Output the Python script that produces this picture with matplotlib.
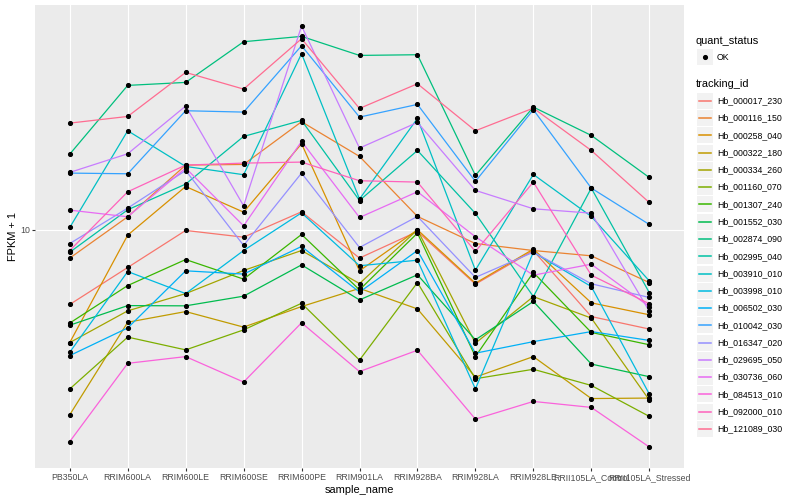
#!/usr/bin/env python3
"""FPKM + 1 per sample for 20 tracking ids, drawn in the ggplot grey look."""

import matplotlib
matplotlib.use("Agg")
import matplotlib.pyplot as plt
from matplotlib.lines import Line2D
from matplotlib.patches import Rectangle
from matplotlib.ticker import NullLocator
import numpy as np

PANEL = "#EBEBEB"
KEY_BG = "#F2F2F2"
TICK_TEXT = "#4D4D4D"
TICK = "#333333"
FONT = "Liberation Sans"
W, H = 800, 500

samples = ["PB350LA", "RRIM600LA", "RRIM600LE", "RRIM600SE", "RRIM600PE", "RRIM901LA",
           "RRIM928BA", "RRIM928LA", "RRIM928LE", "RRII105LA_Control", "RRII105LA_Stressed"]

tracking_ids = ["Hb_000017_230", "Hb_000116_150", "Hb_000258_040", "Hb_000322_180",
                "Hb_000334_260", "Hb_001160_070", "Hb_001307_240", "Hb_001552_030",
                "Hb_002874_090", "Hb_002995_040", "Hb_003910_010", "Hb_003998_010",
                "Hb_006502_030", "Hb_010042_030", "Hb_016347_020", "Hb_029695_050",
                "Hb_030736_060", "Hb_084513_010", "Hb_092000_010", "Hb_121089_030"]

# ggplot hue palette, 20 levels
colors = ["#F8766D", "#EA8331", "#D89000", "#C09B00", "#A3A500", "#7CAE00", "#39B600",
          "#00BB4E", "#00BF7D", "#00C1A3", "#00BFC4", "#00BAE0", "#00B0F6", "#35A2FF",
          "#9590FF", "#C77CFF", "#E76BF3", "#FA62DB", "#FF62BC", "#FF6C91"]

quant_status = ["OK"]

# FPKM + 1, one value per sample (order as in `samples`)
hb_000017_230 = [5.64, 7.49, 9.95, 9.45, 11.48, 8.05, 9.87, 6.59, 8.53, 5.14, 4.67]
hb_000116_150 = [8.05, 11.05, 16.43, 16.51, 22.91, 17.56, 11.08, 9.00, 8.53, 8.19, 6.67]
hb_000258_040 = [4.21, 9.60, 13.94, 11.45, 19.35, 7.30, 10.0, 6.64, 8.62, 5.71, 5.21]
hb_000322_180 = [2.42, 4.92, 5.34, 4.74, 5.55, 6.38, 5.45, 3.23, 3.78, 2.74, 2.75]
hb_000334_260 = [4.21, 5.37, 6.13, 7.32, 8.53, 6.62, 10.0, 4.19, 5.99, 5.08, 2.71]
hb_001160_070 = [2.95, 4.39, 3.98, 4.64, 5.69, 3.68, 6.67, 3.19, 3.43, 3.03, 2.39]
hb_001307_240 = [4.89, 6.52, 7.96, 6.85, 9.65, 6.31, 9.75, 3.78, 7.21, 4.55, 4.14]
hb_001552_030 = [4.81, 5.59, 5.58, 6.01, 7.64, 5.84, 7.08, 4.30, 5.77, 3.57, 3.24]
hb_002874_090 = [17.87, 30.28, 30.98, 42.33, 44.1, 38.11, 38.31, 15.18, 25.64, 20.63, 14.94]
hb_002995_040 = [8.42, 11.66, 14.20, 20.47, 23.14, 12.52, 18.38, 11.34, 5.99, 13.77, 6.18]
hb_003910_010 = [10.18, 21.38, 16.26, 15.26, 38.61, 12.66, 23.50, 7.34, 15.29, 11.08, 6.76]
hb_003998_010 = [3.91, 7.26, 6.13, 8.53, 11.39, 7.59, 7.92, 2.95, 8.42, 6.47, 2.84]
hb_006502_030 = [3.81, 4.71, 7.30, 7.12, 8.80, 6.20, 8.53, 3.88, 4.24, 4.58, 4.28]
hb_010042_030 = [15.45, 15.37, 24.93, 24.67, 41.05, 23.74, 26.17, 14.50, 25.12, 13.77, 10.42]
hb_016347_020 = [9.00, 11.81, 15.76, 8.87, 15.45, 8.73, 11.08, 6.94, 8.42, 6.61, 5.95]
hb_029695_050 = [15.53, 17.92, 25.84, 12.02, 47.74, 18.72, 22.79, 13.53, 11.75, 11.36, 5.36]
hb_030736_060 = [11.63, 11.05, 16.06, 10.31, 19.70, 10.99, 13.39, 9.48, 7.06, 7.68, 5.55]
hb_084513_010 = [1.97, 3.59, 3.78, 3.11, 4.90, 3.37, 3.97, 2.34, 2.68, 2.56, 1.89]
hb_092000_010 = [8.53, 13.39, 16.43, 16.68, 16.81, 14.57, 14.42, 8.47, 14.42, 7.06, 5.67]
hb_121089_030 = [22.67, 23.86, 33.45, 29.43, 43.31, 25.37, 30.66, 21.38, 25.43, 18.38, 12.33]

series = [hb_000017_230, hb_000116_150, hb_000258_040, hb_000322_180, hb_000334_260,
          hb_001160_070, hb_001307_240, hb_001552_030, hb_002874_090, hb_002995_040,
          hb_003910_010, hb_003998_010, hb_006502_030, hb_010042_030, hb_016347_020,
          hb_029695_050, hb_030736_060, hb_084513_010, hb_092000_010, hb_121089_030]


def fpx(x, y):
    """pixel position (from top-left) -> figure fraction"""
    return x / W, 1 - y / H


def draw_legend(fig):
    tr = fig.transFigure
    fig.text(*fpx(696, 41), "quant_status", fontsize=7.9, family=FONT, va="center", ha="left")
    fig.text(*fpx(696, 84), "tracking_id", fontsize=7.9, family=FONT, va="center", ha="left")

    key = 16.0
    # quant_status key
    x0, y0 = fpx(697, 57 + key / 2)
    fig.add_artist(Rectangle((x0, y0), key / W, key / H, transform=tr, color=KEY_BG, lw=0))
    fig.add_artist(Line2D([705 / W], [1 - 57 / H], transform=tr, marker="o", color="black",
                          markersize=2.7, linestyle="none"))
    for q in quant_status:
        fig.text(*fpx(717, 57), q, fontsize=6.35, family=FONT, va="center", ha="left")

    step = 17.28
    for i, (tid, c) in enumerate(zip(tracking_ids, colors)):
        yc = 100.7 + i * step
        x0, y0 = fpx(697, yc + key / 2)
        fig.add_artist(Rectangle((x0, y0), key / W, key / H, transform=tr, color=KEY_BG, lw=0))
        fig.add_artist(Line2D([699 / W, 711 / W], [1 - yc / H] * 2, transform=tr,
                              color=c, linewidth=1.1))
        fig.text(*fpx(717, yc), tid, fontsize=6.35, family=FONT, va="center", ha="left")


def main():
    fig = plt.figure(figsize=(W / 100, H / 100), dpi=100)
    fig.patch.set_facecolor("white")
    ax = fig.add_axes([35 / W, 1 - 468 / H, (684 - 35) / W, (468 - 5) / H])
    ax.set_facecolor(PANEL)
    for s in ax.spines.values():
        s.set_visible(False)

    x = np.arange(len(samples))
    for vals, c in zip(series, colors):
        ax.plot(x, vals, color=c, linewidth=0.9, zorder=3)
    for vals in series:
        ax.plot(x, vals, linestyle="none", marker="o", color="black", markersize=2.7, zorder=4)

    ax.set_yscale("log")
    allv = np.log10(np.concatenate([np.asarray(v) for v in series]))
    lo, hi = allv.min(), allv.max()
    pad = 0.05 * (hi - lo)
    ax.set_ylim(10 ** (lo - pad), 10 ** (hi + pad))
    ax.set_xlim(-0.6, len(samples) - 0.4)

    ax.set_yticks([10])
    ax.set_yticklabels(["10"])
    ax.yaxis.set_minor_locator(NullLocator())
    ax.set_xticks(x)
    ax.set_xticklabels(samples)
    ax.tick_params(axis="both", length=2.0, width=0.8, color=TICK, pad=1.6,
                   labelcolor=TICK_TEXT, labelsize=6.35)
    for lab in ax.get_xticklabels() + ax.get_yticklabels():
        lab.set_family(FONT)

    ax.grid(True, which="major", color="white", linewidth=0.8, zorder=0)
    ax.set_axisbelow(True)

    fig.text(*fpx(359.5, 490), "sample_name", fontsize=7.9, family=FONT, ha="center", va="center")
    fig.text(*fpx(13, 236.5), "FPKM + 1", fontsize=7.9, family=FONT, ha="center", va="center",
             rotation=90)

    draw_legend(fig)
    fig.savefig("out.png", dpi=100, facecolor="white")
    plt.close(fig)


if __name__ == "__main__":
    main()
